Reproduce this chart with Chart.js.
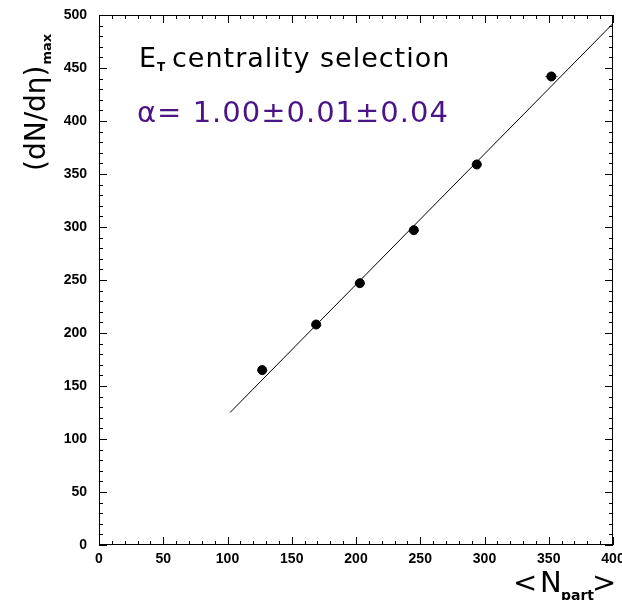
<!DOCTYPE html>
<html>
<head>
<meta charset="utf-8">
<title>dN/deta vs Npart</title>
<script src="https://cdn.jsdelivr.net/npm/chart.js@4.4.1/dist/chart.umd.min.js"></script>
<style>
  html, body { margin: 0; padding: 0; background: #fff; }
  #wrap { width: 622px; height: 600px; }
</style>
</head>
<body>
<div id="wrap"><canvas id="plot" width="622" height="600"></canvas></div>
<script>
// measured points: <Npart> and (dN/deta)max
var npart = [127, 169, 203, 245, 294, 352];
var dndeta = [165, 208, 247, 297, 359, 442];
var npartErr = [4, 4, 4, 4, 4, 5];
// fitted line end points
var fitX = [102, 400];
var fitY = [125, 492];

var points = npart.map(function (x, i) { return { x: x, y: dndeta[i] }; });
var fitLine = fitX.map(function (x, i) { return { x: x, y: fitY[i] }; });

var textFont = '"DejaVu Sans", sans-serif';
var tickFont = { family: '"Liberation Sans", Arial, sans-serif', size: 14, weight: 'bold' };

// frame, inward ticks on all four sides, x error bars and text
var decorations = {
  id: 'decorations',
  beforeDatasetsDraw: function (chart) {
    var ctx = chart.ctx, a = chart.chartArea;
    var xs = chart.scales.x, ys = chart.scales.y;
    ctx.save();
    ctx.strokeStyle = '#000';
    ctx.lineWidth = 1;
    ctx.strokeRect(a.left + 0.5, a.top + 0.5, a.right - a.left - 1, a.bottom - a.top - 1);
    ctx.beginPath();
    for (var v = 0; v <= 400; v += 10) {
      var px = Math.round(xs.getPixelForValue(v)) + 0.5;
      var len = (v % 50 === 0) ? 8 : 4;
      ctx.moveTo(px, a.bottom); ctx.lineTo(px, a.bottom - len);
      ctx.moveTo(px, a.top); ctx.lineTo(px, a.top + len);
    }
    for (var w = 0; w <= 500; w += 10) {
      var py = Math.round(ys.getPixelForValue(w)) + 0.5;
      var l = (w % 50 === 0) ? 8 : 4;
      ctx.moveTo(a.left, py); ctx.lineTo(a.left + l, py);
      ctx.moveTo(a.right, py); ctx.lineTo(a.right - l, py);
    }
    ctx.stroke();

    // horizontal error bars
    ctx.strokeStyle = '#777';
    ctx.beginPath();
    for (var i = 0; i < npart.length; i++) {
      var y0 = Math.round(ys.getPixelForValue(dndeta[i])) + 0.5;
      ctx.moveTo(xs.getPixelForValue(npart[i] - npartErr[i]), y0);
      ctx.lineTo(xs.getPixelForValue(npart[i] + npartErr[i]), y0);
    }
    ctx.stroke();
    ctx.restore();
  },
  afterDraw: function (chart) {
    var ctx = chart.ctx;
    ctx.save();
    ctx.textBaseline = 'alphabetic';
    ctx.textAlign = 'left';

    // E_T centrality selection
    ctx.fillStyle = '#000';
    ctx.letterSpacing = '1px';
    ctx.font = '27px ' + textFont;
    ctx.fillText('E', 139, 67);
    ctx.font = 'bold 12px ' + textFont;
    ctx.fillText('T', 157, 71);
    ctx.font = '27px ' + textFont;
    ctx.fillText('centrality selection', 172, 67);

    // alpha result
    ctx.fillStyle = '#4a1486';
    ctx.font = '29px ' + textFont;
    ctx.fillText('\u03b1= 1.00\u00b10.01\u00b10.04', 137, 122);
    ctx.letterSpacing = '0px';

    // y title, rotated
    ctx.fillStyle = '#000';
    ctx.translate(45, 171);
    ctx.rotate(-Math.PI / 2);
    ctx.font = '28px ' + textFont;
    ctx.fillText('(dN/d\u03b7)', 0, 0);
    var mw = ctx.measureText('(dN/d\u03b7)').width;
    ctx.font = 'bold 13px ' + textFont;
    ctx.fillText('max', mw + 1, 6);
    ctx.setTransform(1, 0, 0, 1, 0, 0);

    // x title
    ctx.font = '29px ' + textFont;
    ctx.fillText('<', 513, 592);
    ctx.fillText('N', 540, 592);
    ctx.font = 'bold 14px ' + textFont;
    ctx.fillText('part', 561, 600);
    ctx.font = '29px ' + textFont;
    ctx.fillText('>', 592, 592);
    ctx.restore();
  }
};

new Chart(document.getElementById('plot').getContext('2d'), {
  type: 'scatter',
  data: {
    datasets: [
      {
        label: 'fit',
        type: 'line',
        data: fitLine,
        borderColor: '#000',
        borderWidth: 1,
        pointRadius: 0,
        fill: false,
        tension: 0
      },
      {
        label: 'data',
        data: points,
        backgroundColor: '#000',
        borderColor: '#000',
        pointRadius: 4.5,
        pointHoverRadius: 4.5
      }
    ]
  },
  options: {
    responsive: false,
    animation: false,
    events: [],
    layout: { padding: { top: 15, right: 9, left: 0, bottom: 0 } },
    plugins: { legend: { display: false }, tooltip: { enabled: false } },
    scales: {
      x: {
        type: 'linear',
        min: 0, max: 400,
        grid: { display: false, drawTicks: false },
        border: { display: false },
        ticks: { stepSize: 50, padding: 6, color: '#000', font: tickFont, maxRotation: 0 },
        afterFit: function (s) { s.height = 55; s.paddingLeft = 0; s.paddingRight = 0; }
      },
      y: {
        type: 'linear',
        min: 0, max: 500,
        grid: { display: false, drawTicks: false },
        border: { display: false },
        ticks: { stepSize: 50, padding: 12, color: '#000', font: tickFont },
        afterFit: function (s) { s.width = 99; s.paddingTop = 0; s.paddingBottom = 0; }
      }
    }
  },
  plugins: [decorations]
});
</script>
</body>
</html>
